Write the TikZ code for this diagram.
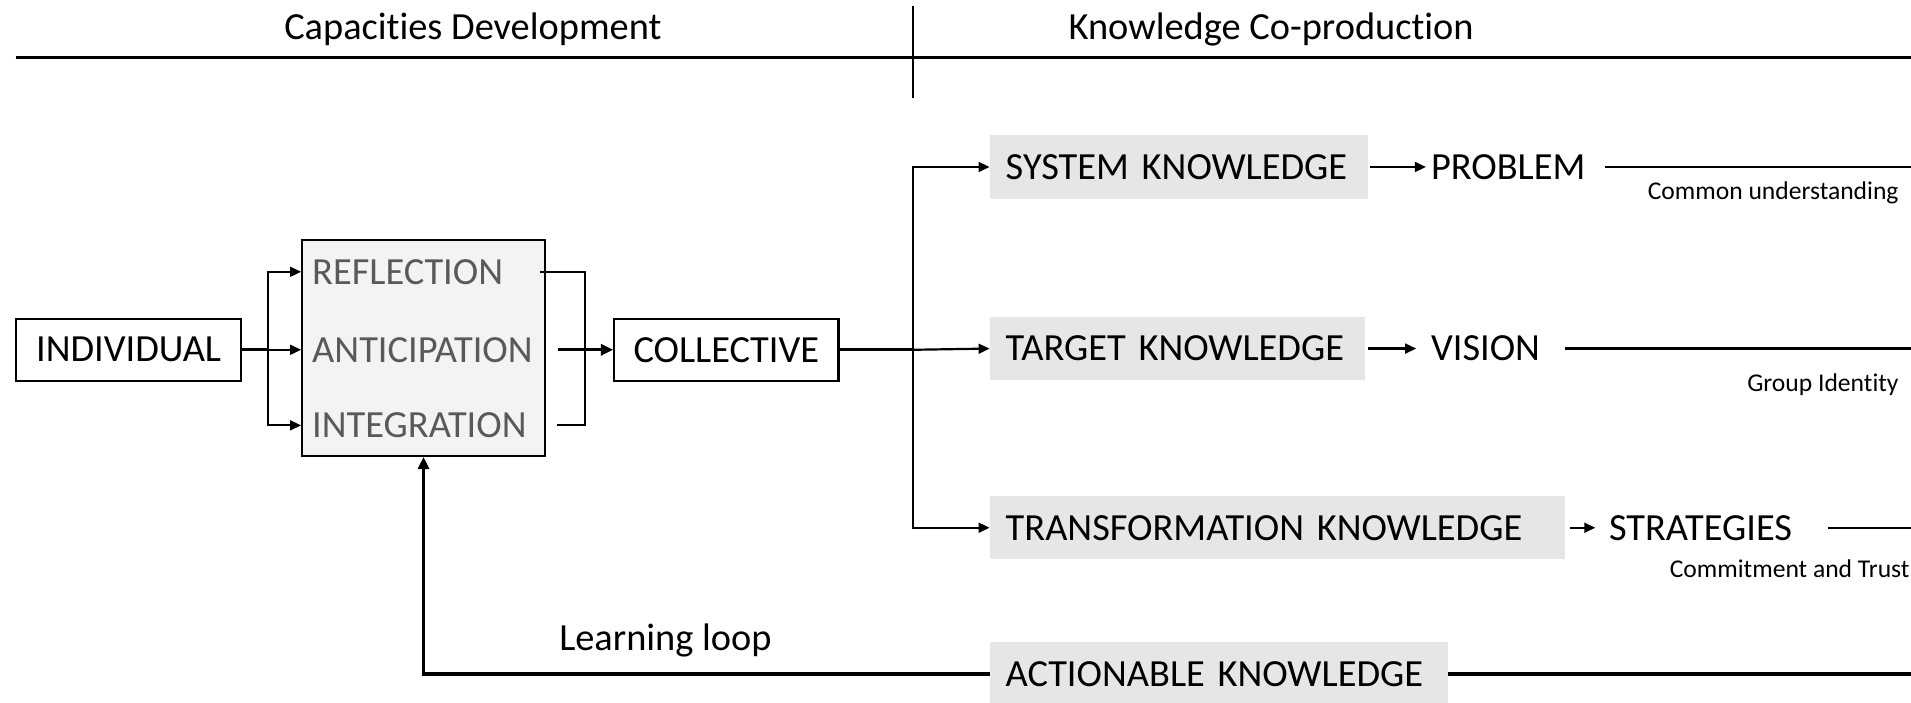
\documentclass[tikz,border=0pt]{standalone}
\usepackage{fontspec}
\setmainfont{Carlito}[Ligatures={NoCommon}]
\usetikzlibrary{arrows.meta,positioning}
\definecolor{kboxc}{HTML}{E6E6E6}
\definecolor{cboxc}{HTML}{F3F3F3}
\definecolor{gtext}{HTML}{595959}
\begin{document}
\begin{tikzpicture}[x=1pt,y=-1pt,
  big/.style={font=\fontsize{31.5}{36}\selectfont},
  small/.style={font=\fontsize{21}{25}\selectfont},
  plainbox/.style={draw, line width=1.8pt, minimum height=51pt, inner sep=0pt, big},
  kbox/.style={fill=kboxc, big, inner xsep=13pt, inner ysep=0pt, minimum height=52pt, align=left, anchor=west},
  captext/.style={big, text=gtext, anchor=west, inner sep=0pt},
  conn/.style={line width=1.8pt},
  thick conn/.style={line width=2.8pt},
  arr/.style={conn, -{Triangle[length=9pt,width=8pt]}},
  thick arr/.style={thick conn, -{Triangle[length=10pt,width=9pt]}},
]
\useasboundingbox (0,0) rectangle (1568,576);

% headings
\node[big] (t1) at (388,24) {Capacities Development};
\node[big] (t2) at (1043,24) {Knowledge Co-production};
\coordinate (hl) at (13,47);
\coordinate (hr) at (1568,47);
\coordinate (vt) at (749,5);
\coordinate (vb) at (749,80);
\draw[line width=2.5pt] (hl) -- (hr);
\draw[conn] (vt) -- (vb);

% capacities
\node[plainbox, minimum width=185pt] (ind) at (105.5,287) {INDIVIDUAL};
\node[draw, fill=cboxc, line width=1.8pt, minimum width=199pt, minimum height=177pt] (cap) at (347.5,285.5) {};
\node[captext] (refl) at (256,223) {REFLECTION};
\node[captext] (ant) at (256,287) {ANTICIPATION};
\node[captext] (intg) at (256,349) {INTEGRATION};
\node[plainbox, minimum width=184pt] (col) at (596,287) {COLLECTIVE};

\coordinate (split) at (220,287);
\draw[thick conn] (ind.east) -- (split);
\draw[arr] (split) -- (cap.west |- ant.west);
\draw[arr] (split) |- (cap.west |- refl.west);
\draw[arr] (split) |- (cap.west |- intg.west);

\coordinate (r1) at (443,223);
\coordinate (r2) at (458,287);
\coordinate (r3) at (457,349);
\coordinate (join) at (480,287);
\draw[conn] (r1) -| (join) |- (r3);
\draw[thick arr] (r2) -- (col.west);

% knowledge
\node[kbox, text width=284pt] (sys) at (812,137) {SYSTEM KNOWLEDGE};
\node[kbox, text width=282pt] (tgt) at (812,286) {TARGET KNOWLEDGE};
\node[kbox, text width=446pt] (trf) at (812,433) {TRANSFORMATION KNOWLEDGE};
\node[kbox, text width=350pt] (act) at (812,553) {ACTIONABLE KNOWLEDGE};

\coordinate (hub) at (749,287);
\draw[thick conn] (col.east) -- (hub);
\draw[arr] (hub) |- (sys.west);
\draw[arr] (hub) -- (tgt.west);
\draw[arr] (hub) |- (trf.west);

\node[big, inner sep=4pt, anchor=west] (prob) at (1170,137) {PROBLEM};
\node[big, inner sep=4pt, anchor=west] (vis) at (1170,286) {VISION};
\node[big, inner sep=4pt, anchor=west] (strat) at (1316,433) {STRATEGIES};

\draw[arr, shorten <=2pt] (sys.east) -- (prob.west);
\draw[arr, shorten <=2pt, shorten >=8pt] (tgt.east) -- (vis.west);
\draw[arr, shorten <=4pt, shorten >=7pt] (trf.east) -- (strat.west);

\coordinate (e1) at (1568,137);
\coordinate (e2) at (1568,286);
\coordinate (e3) at (1568,433);
\coordinate (e4) at (1568,553);
\draw[conn, shorten <=12pt] (prob.east) -- (e1);
\draw[conn, shorten <=16pt] (vis.east) -- (e2);
\draw[conn, shorten <=25pt] (strat.east) -- (e3);
\draw[thick conn] (act.east) -- (e4);

\node[small, anchor=base east, inner sep=0pt] (cu) at (1558,164) {Common understanding};
\node[small, anchor=base east, inner sep=0pt] (gi) at (1558,321) {Group Identity};
\node[small, anchor=base east, inner sep=0pt] (ct) at (1567,474) {Commitment and Trust};

% learning loop
\draw[thick arr] (act.west) -| (cap.south);
\node[big, anchor=base, inner sep=0pt] (ll) at (546,534) {Learning loop};
\end{tikzpicture}
\end{document}
